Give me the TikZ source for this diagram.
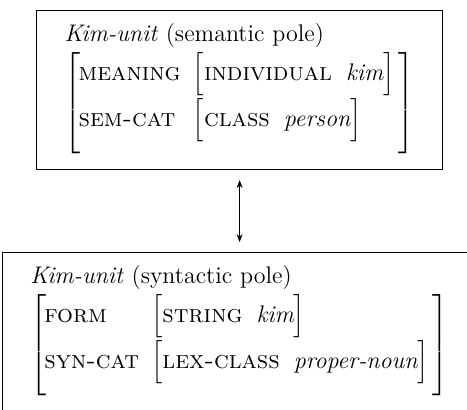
\documentclass[tikz,border=0pt]{standalone}
\usepackage{amsmath}
\usetikzlibrary{positioning,arrows.meta}

\newcommand{\feat}[1]{{\fontsize{12.5}{14.5}\selectfont\textsc{#1}}}
\newcommand{\val}[1]{\textit{#1}}
\newcommand{\avmpair}[2]{\Big[\feat{#1}\hspace{7pt}\val{#2}\Big]}

\begin{document}
\begin{tikzpicture}[
    polebox/.style={draw, rectangle, inner xsep=14pt, inner ysep=0pt,
      font=\fontsize{12}{14.5}\selectfont},
    link/.style={{Stealth[length=4pt,width=3pt]}-{Stealth[length=4pt,width=3pt]},
      shorten >=5pt, shorten <=5pt}
  ]

  % Frame
  \useasboundingbox (0,0) rectangle (233.5pt,-204.5pt);

  % Semantic pole
  \node (sem) [polebox, anchor=north] at (119.8pt,-5pt) {%
    \begin{tabular}{@{}l@{}}
      \rule{0pt}{15.5pt}\val{Kim-unit} (semantic pole)\\[1.2pt]
      $\left[\begin{array}{@{\hspace{-1pt}}l@{\hspace{6pt}}l@{\hspace{2pt}}}
        \rule[-9.2pt]{0pt}{14.5pt}\feat{meaning} & \avmpair{individual}{kim}\\
        \rule[-13.25pt]{0pt}{0pt}\feat{sem-cat} & \avmpair{class}{person}
      \end{array}\right]$\rule[-30.4pt]{0pt}{0pt}
    \end{tabular}};

  % Syntactic pole
  \node (syn) [polebox, below=41pt of sem] {%
    \begin{tabular}{@{}l@{}}
      \rule{0pt}{15.5pt}\val{Kim-unit} (syntactic pole)\\[1.2pt]
      $\left[\begin{array}{@{\hspace{-1pt}}l@{\hspace{6pt}}l@{\hspace{2pt}}}
        \rule[-9.2pt]{0pt}{14.5pt}\feat{form} & \avmpair{string}{kim}\\
        \rule[-13.25pt]{0pt}{0pt}\feat{syn-cat} & \avmpair{lex-class}{proper-noun}
      \end{array}\right]$\rule[-30.4pt]{0pt}{0pt}
    \end{tabular}};

  % Link between the poles
  \draw[link] (sem) -- (syn);

\end{tikzpicture}
\end{document}
